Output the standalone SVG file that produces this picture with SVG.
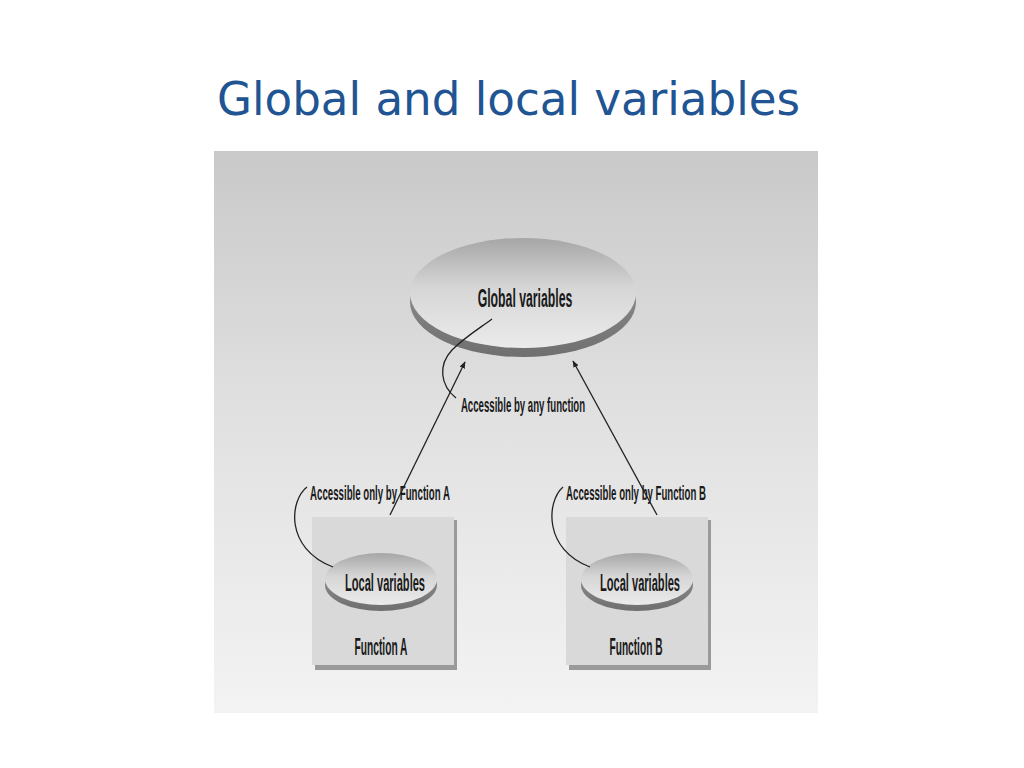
<svg xmlns="http://www.w3.org/2000/svg" width="1024" height="768" viewBox="0 0 1024 768">
<style>
.t{font-family:"Liberation Sans",Arial,sans-serif;fill:#1a1a1a;text-anchor:middle;font-weight:bold}
.c{fill:none;stroke:#222;stroke-width:1.3}
</style>
<defs>
<linearGradient id="bg" x1="0" y1="0" x2="0" y2="1">
<stop offset="0" stop-color="#c9c9c9"/>
<stop offset="0.45" stop-color="#e0e0e0"/>
<stop offset="1" stop-color="#f3f3f3"/>
</linearGradient>
<linearGradient id="face" x1="0" y1="0" x2="0" y2="1">
<stop offset="0" stop-color="#a6a6a6"/>
<stop offset="0.45" stop-color="#d6d6d6"/>
<stop offset="1" stop-color="#ebebeb"/>
</linearGradient>
<linearGradient id="edge" x1="0" y1="0" x2="0" y2="1">
<stop offset="0" stop-color="#9a9a9a"/>
<stop offset="1" stop-color="#6f6f6f"/>
</linearGradient>
<marker id="ah" viewBox="0 0 10 10" refX="9" refY="5" markerWidth="7" markerHeight="7" orient="auto-start-reverse" markerUnits="userSpaceOnUse">
<path d="M0 1 L10 5 L0 9 Z" fill="#222"/>
</marker>
</defs>
<rect width="1024" height="768" fill="#fff"/>
<text x="217" y="115" font-family="'DejaVu Sans',Verdana,sans-serif" font-size="47" fill="#205492" textLength="583" lengthAdjust="spacingAndGlyphs">Global and local variables</text>
<rect x="214" y="151" width="604" height="562" fill="url(#bg)"/>

<g id="global">
<ellipse cx="523" cy="302" rx="113" ry="55" fill="url(#edge)"/>
<ellipse cx="523" cy="293" rx="113" ry="55" fill="url(#face)"/>
<text class="t" transform="translate(525 307) scale(0.46 1)" x="0" y="0" font-size="25" textLength="206" lengthAdjust="spacingAndGlyphs">Global  variables</text>
</g>

<g id="functionA">
<rect x="315" y="520" width="142" height="150" fill="#9a9a9a"/>
<rect x="312" y="517" width="142" height="148" fill="#d9d9d9"/>
<ellipse cx="381" cy="585" rx="56" ry="26" fill="url(#edge)"/>
<ellipse cx="381" cy="579" rx="56" ry="26" fill="url(#face)"/>
<text class="t" transform="translate(385 591) scale(0.46 1)" x="0" y="0" font-size="24" textLength="174" lengthAdjust="spacingAndGlyphs">Local variables</text>
<text class="t" transform="translate(381 655) scale(0.46 1)" x="0" y="0" font-size="24" textLength="115" lengthAdjust="spacingAndGlyphs">Function A</text>
</g>

<g id="functionB">
<rect x="569" y="520" width="142" height="150" fill="#9a9a9a"/>
<rect x="566" y="517" width="142" height="148" fill="#d9d9d9"/>
<ellipse cx="637" cy="585" rx="56" ry="26" fill="url(#edge)"/>
<ellipse cx="637" cy="579" rx="56" ry="26" fill="url(#face)"/>
<text class="t" transform="translate(640 591) scale(0.46 1)" x="0" y="0" font-size="24" textLength="174" lengthAdjust="spacingAndGlyphs">Local variables</text>
<text class="t" transform="translate(636 655) scale(0.46 1)" x="0" y="0" font-size="24" textLength="115" lengthAdjust="spacingAndGlyphs">Function B</text>
</g>

<g id="labels">
<text class="t" transform="translate(523 412) scale(0.46 1)" x="0" y="0" font-size="21" textLength="270" lengthAdjust="spacingAndGlyphs">Accessible by any function</text>
<text class="t" transform="translate(380 500) scale(0.46 1)" x="0" y="0" font-size="21" textLength="304" lengthAdjust="spacingAndGlyphs">Accessible only by Function A</text>
<text class="t" transform="translate(636 500) scale(0.46 1)" x="0" y="0" font-size="21" textLength="304" lengthAdjust="spacingAndGlyphs">Accessible only by Function B</text>
</g>

<g id="connectors">
<path class="c" d="M390 515 L465 362" marker-end="url(#ah)"/>
<path class="c" d="M657 515 L573 361" marker-end="url(#ah)"/>
<path class="c" d="M456 398 C 440 385, 438 365, 452 350 C 465 337, 480 328, 492 319"/>
<path class="c" d="M307 487 C 290 500, 284 548, 333 567"/>
<path class="c" d="M563 487 C 546 502, 544 550, 590 567"/>
</g>
</svg>
